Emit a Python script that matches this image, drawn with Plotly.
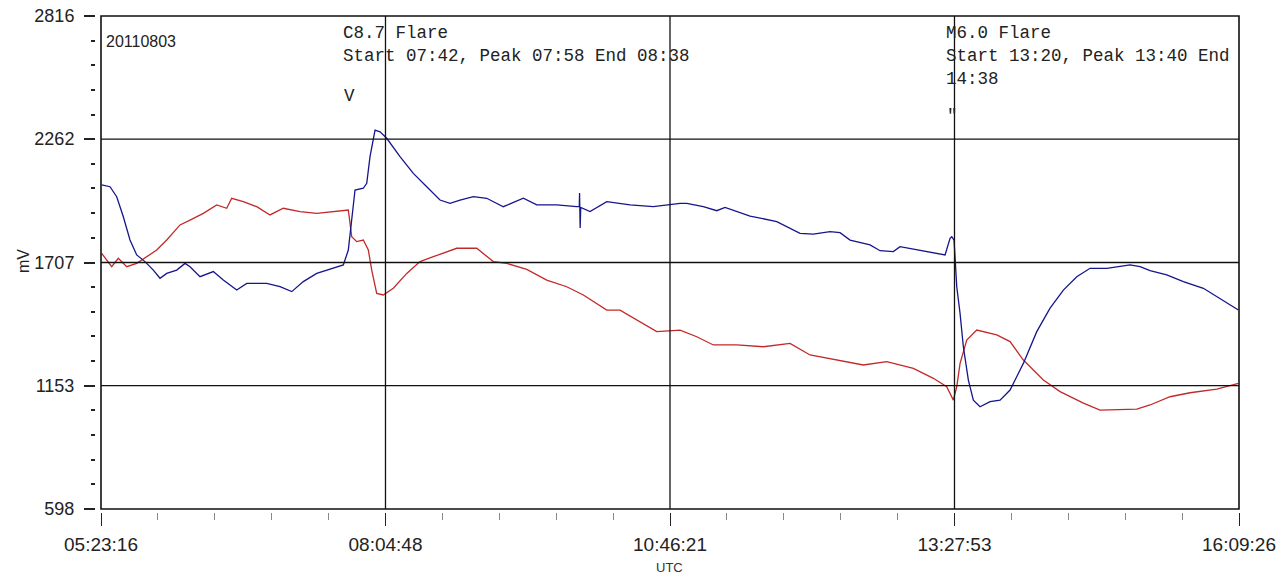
import plotly.graph_objects as go
import pandas as pd

DATE = "2011-08-03"

BLUE_T = ["05:23:40","05:28:23","05:32:11","05:35:56","05:39:44","05:43:32","05:48:15","05:52:58","05:56:46",
          "06:00:35","06:06:16","06:10:58","06:13:49","06:19:29","06:27:02","06:32:43","06:40:20","06:46:00",
          "06:57:22","07:04:55","07:11:34","07:18:08","07:25:45","07:35:11","07:40:52","07:43:42","07:45:38",
          "07:47:30","07:52:13","07:54:09","07:56:01","07:58:52","08:01:42","08:05:30","08:13:03","08:20:37",
          "08:28:13","08:35:46","08:41:27","08:47:08","08:54:41","09:02:17","09:11:43","09:23:04","09:30:41",
          "09:42:02","09:53:23","09:54:50","09:55:00","09:55:20","09:55:40","10:00:56","10:10:26","10:23:40",
          "10:36:53","10:52:04","10:55:52","11:05:17","11:12:54","11:17:36","11:31:48","11:43:10","11:46:58",
          "12:00:11","12:07:44","12:17:13","12:22:54","12:28:35","12:39:56","12:45:37","12:53:10","12:56:58",
          "13:06:28","13:17:49","13:22:32","13:25:22","13:26:20","13:27:38","13:28:13","13:29:10","13:31:03",
          "13:32:55","13:35:46","13:38:36","13:42:24","13:48:05","13:53:46","13:59:26","14:06:59","14:14:36",
          "14:22:09","14:29:43","14:37:19","14:44:52","14:54:21","15:07:35","15:13:16","15:18:56","15:28:25",
          "15:37:51","15:49:12","15:58:41","16:09:05"]
BLUE_MV = [2056,2048,2003,1913,1808,1741,1711,1673,1636,
           1658,1673,1703,1688,1643,1666,1628,1583,1613,
           1613,1598,1576,1621,1658,1681,1696,1763,1898,
           2033,2041,2063,2183,2303,2295,2266,2183,2108,
           2048,1988,1973,1988,2003,1996,1958,1996,1966,
           1966,1958,1958,2020,1862,1955,1936,1981,1966,
           1958,1973,1973,1958,1940,1955,1916,1898,1891,
           1838,1835,1846,1841,1808,1786,1760,1756,1778,
           1763,1748,1741,1816,1823,1808,1718,1598,1478,
           1328,1178,1088,1058,1081,1088,1133,1253,1396,
           1502,1583,1643,1681,1681,1696,1688,1670,1651,
           1621,1591,1546,1493]

RED_T = ["05:23:40","05:26:31","05:29:21","05:33:05","05:37:52","05:43:32","05:49:13","05:54:54","06:00:35",
         "06:08:08","06:13:49","06:21:22","06:28:58","06:34:39","06:37:29","06:44:04","06:51:41","06:59:14",
         "07:06:47","07:16:16","07:25:45","07:35:11","07:43:42","07:45:38","07:48:28","07:52:13","07:55:04",
         "07:56:59","07:59:49","08:03:34","08:09:15","08:16:52","08:24:25","08:31:58","08:45:15","08:56:37",
         "09:06:02","09:13:39","09:25:01","09:36:22","09:47:43","09:57:09","10:10:26","10:17:59","10:27:28",
         "10:38:49","10:52:04","11:01:32","11:10:58","11:24:15","11:39:21","11:54:31","12:05:52","12:21:02",
         "12:36:08","12:49:25","13:04:32","13:15:53","13:23:29","13:27:14","13:29:10","13:31:03","13:34:51",
         "13:40:32","13:51:53","13:59:26","14:06:59","14:18:21","14:27:50","14:41:04","14:50:32","15:11:23",
         "15:18:56","15:30:18","15:41:39","15:56:49","16:09:05"]
RED_MV = [1748,1718,1688,1726,1688,1703,1733,1763,1808,
          1876,1898,1928,1966,1951,1996,1981,1958,1921,
          1951,1936,1928,1936,1943,1823,1801,1808,1763,
          1673,1568,1561,1591,1658,1711,1733,1771,1771,
          1711,1703,1676,1628,1598,1561,1493,1493,1448,
          1396,1403,1373,1336,1336,1328,1343,1291,1268,
          1246,1261,1231,1186,1148,1088,1148,1253,1358,
          1403,1381,1351,1268,1178,1126,1074,1043,1047,
          1066,1103,1121,1137,1163]

X_TICKS = ["05:23:16", "08:04:48", "10:46:21", "13:27:53", "16:09:26"]
Y_TICKS = [598, 1153, 1707, 2262, 2816]

W, H = 1278, 575
ML, MR, MT, MB = 95, 39, 16, 63
PW, PH = W - ML - MR, H - MT - MB


def px(x):
    return (x - ML) / PW


def py(y):
    return (H - MB - y) / PH


def ts(t):
    return f"{DATE} {t}"


xt = [pd.Timestamp(ts(t)) for t in X_TICKS]
x_minor = []
for a, b in zip(xt[:-1], xt[1:]):
    step = (b - a) / 5
    for k in range(1, 5):
        x_minor.append((a + step * k).strftime("%Y-%m-%d %H:%M:%S"))
y_minor = []
for a, b in zip(Y_TICKS[:-1], Y_TICKS[1:]):
    for k in range(1, 5):
        y_minor.append(a + (b - a) * k / 5)

fig = go.Figure()
fig.add_trace(go.Scatter(x=[ts(t) for t in RED_T], y=RED_MV, mode="lines",
                         line=dict(color="#c22a2a", width=1.3), showlegend=False))
fig.add_trace(go.Scatter(x=[ts(t) for t in BLUE_T], y=BLUE_MV, mode="lines",
                         line=dict(color="#15158c", width=1.3), showlegend=False))

tickfont = dict(family="Liberation Sans, Arial", size=18, color="#222")
fig.update_layout(
    width=W, height=H,
    margin=dict(l=ML, r=MR, t=MT, b=MB, autoexpand=False),
    paper_bgcolor="white", plot_bgcolor="white",
    xaxis=dict(
        domain=[(101 - ML) / PW, 1], anchor="free", position=0, automargin=False,
        range=[ts(X_TICKS[0]), ts(X_TICKS[-1])], type="date",
        showline=False, showgrid=False, zeroline=False,
        tickmode="array", tickvals=[ts(t) for t in X_TICKS], ticktext=X_TICKS,
        ticks="outside", ticklen=13, tickwidth=1.3, tickcolor="#222",
        tickfont=dict(family="Liberation Sans, Arial", size=19, color="#222"),
        ticklabelstandoff=2,
        minor=dict(tickmode="array", tickvals=x_minor, ticks="outside", ticklen=7,
                   tickwidth=1, tickcolor="#888", showgrid=False),
    ),
    yaxis=dict(
        domain=[(H - MB - 509) / PH, 1], anchor="free", position=0, automargin=False,
        range=[Y_TICKS[0], Y_TICKS[-1]],
        showline=False, showgrid=False, zeroline=False,
        tickmode="array", tickvals=Y_TICKS, ticktext=[str(v) for v in Y_TICKS],
        ticks="outside", ticklen=11, tickwidth=1.5, tickcolor="#222",
        tickfont=tickfont, ticklabelstandoff=6,
        minor=dict(tickmode="array", tickvals=y_minor, ticks="outside", ticklen=4,
                   tickwidth=1.5, tickcolor="#222", showgrid=False),
    ),
)

shapes = []
for v in Y_TICKS[1:-1]:
    shapes.append(dict(type="line", xref="x domain", yref="y", x0=0, x1=1, y0=v, y1=v,
                       line=dict(color="#111", width=1.3)))
for t in X_TICKS[1:-1]:
    shapes.append(dict(type="line", xref="x", yref="y domain", x0=ts(t), x1=ts(t), y0=0, y1=1,
                       line=dict(color="#111", width=1.3)))
shapes.append(dict(type="rect", xref="x domain", yref="y domain", x0=0, x1=1, y0=0, y1=1,
                   line=dict(color="#111", width=1.6)))
fig.update_layout(shapes=shapes)

mono = dict(family="Liberation Mono, Courier New", size=17.5, color="#222")
ann = [
    dict(text="20110803", x=px(104), y=py(41), xanchor="left", yanchor="middle",
         font=dict(family="Liberation Sans, Arial", size=16, color="#222")),
    dict(text="C8.7 Flare<br>Start 07:42, Peak 07:58 End 08:38", x=px(341), y=py(21),
         xanchor="left", yanchor="top", align="left", font=mono),
    dict(text="V", x=px(342), y=py(96), xanchor="left", yanchor="middle", font=mono),
    dict(text="M6.0 Flare<br>Start 13:20, Peak 13:40 End<br>14:38", x=px(944), y=py(21),
         xanchor="left", yanchor="top", align="left", font=mono),
    dict(text="\"", x=px(945), y=py(116), xanchor="left", yanchor="middle", font=mono),
    dict(text="mV", x=px(23), y=py(261), xanchor="center", yanchor="middle", textangle=-90,
         font=dict(family="Liberation Sans, Arial", size=16, color="#222")),
    dict(text="UTC", x=px(669), y=py(567), xanchor="center", yanchor="middle",
         font=dict(family="Liberation Sans, Arial", size=13, color="#333")),
]
for a in ann:
    a.update(xref="paper", yref="paper", showarrow=False)
fig.update_layout(annotations=ann)

fig.write_html("out.html")
